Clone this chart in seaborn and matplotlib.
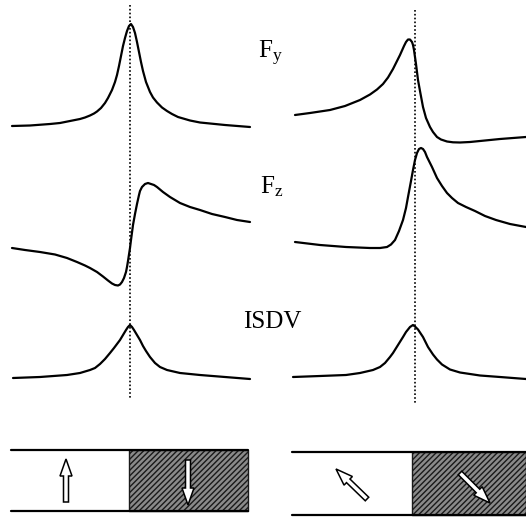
import numpy as np
import pandas as pd
import matplotlib
matplotlib.use("Agg")
import matplotlib.pyplot as plt
import seaborn as sns

sns.set_theme(style="white")
plt.rcParams["font.family"] = ["Liberation Serif", "DejaVu Serif"]
plt.rcParams["mathtext.fontset"] = "custom"
plt.rcParams["mathtext.rm"] = "Liberation Serif"
plt.rcParams["mathtext.it"] = "Liberation Serif"
plt.rcParams["hatch.linewidth"] = 1.0

# ---- curve data (figure pixel frame: x right, y down) ----
left_fy_x = [12, 30, 50, 60, 70, 80, 85, 90, 94, 97, 101, 105, 108, 112, 115, 117, 119, 121, 123, 125, 127, 129, 131,
             133, 135, 137, 139, 141, 143, 146, 150, 153, 157, 162, 167, 172, 178, 190, 200, 225, 250]
left_fy_y = [126, 125.5, 124, 123, 121, 119, 117.5, 115.5, 113.5, 111.5, 108, 103, 98, 90, 82, 75, 66, 56, 46, 38, 31,
             26, 24, 27, 33, 42, 52, 62, 71, 82, 92, 97.5, 102.5, 107.5, 111, 114, 117, 120.5, 122.5, 125, 127]

left_fz_x = [12, 25, 40, 55, 67, 77, 85, 90, 97, 103, 108, 112, 115, 118, 120, 122, 124, 126, 127, 128, 130, 131, 133,
             135, 137, 139, 140, 142, 145, 148, 151, 154, 157, 163, 170, 175, 180, 190, 200, 212, 225, 237, 250]
left_fz_y = [248, 250, 252, 254.5, 258, 262, 265.5, 268, 272, 276.5, 280.5, 283.5, 285, 285.5, 284.5, 282, 278, 272,
             267, 261, 248, 240, 225, 214, 204, 195, 191, 187, 184, 183, 184, 185, 187, 192, 197, 200, 203, 207, 210,
             214, 217, 220, 222]

left_isdv_x = [13, 40, 67, 80, 90, 95, 100, 105, 110, 114, 117, 120, 123, 126, 128, 130, 132, 134, 137, 140, 143, 146,
               150, 155, 160, 167, 180, 200, 225, 250]
left_isdv_y = [378, 377, 375, 373, 370, 368, 364, 359, 353, 348, 344, 340, 335, 330, 327, 325, 327, 330, 335, 340, 346,
               351, 357, 363, 367, 370, 373, 375, 377, 379]

right_fy_x = [295, 310, 330, 345, 360, 370, 377, 383, 388, 393, 397, 400, 402, 404, 406, 408, 410, 412, 413, 414, 415,
              416, 418, 420, 423, 426, 430, 433, 437, 441, 447, 453, 460, 470, 480, 500, 526]
right_fy_y = [115, 113, 110, 106, 100, 94.5, 89.5, 84, 77.5, 69, 61, 55, 50.5, 46, 42, 39.5, 39.5, 42, 45, 50, 57,
              64, 80, 91, 107, 118, 127, 132, 137, 139.5, 141.5, 142.3, 142.5, 142, 141, 139, 137]

right_fz_x = [295, 320, 346, 370, 380, 387, 391, 395, 399, 403, 406, 408, 411, 413, 415, 417, 419, 421, 423, 425, 427,
              432, 437, 442, 447, 452, 458, 466, 475, 485, 496, 510, 526]
right_fz_y = [242, 245, 247, 248, 248, 247, 244.5, 240, 231, 220, 208, 197, 181, 170, 160, 153, 149, 148, 149, 152, 157,
              167, 178, 186, 193, 198, 203, 207, 211, 216, 220, 224, 227]

right_isdv_x = [293, 320, 346, 360, 373, 380, 385, 390, 393, 398, 403, 406, 408, 410, 413, 415, 418, 420, 423, 428,
                433, 437, 442, 450, 460, 480, 500, 526]
right_isdv_y = [377, 376, 375, 373, 370, 367, 363, 357, 353, 345, 337, 332, 329.5, 327, 325, 326.5, 329.5, 332.5, 337,
                347, 354.5, 359.5, 364.5, 369.5, 372.5, 375.5, 377, 379]

# dotted resonance markers: x, y_top, y_bottom
markers_x = [130, 415]
markers_top = [5, 10]
markers_bottom = [398, 403]

# labels
labels = [r"F$_{\mathrm{y}}$", r"F$_{\mathrm{z}}$", "ISDV"]
labels_x = [258, 260, 243]
labels_y = [58, 193, 328]

# magnetisation strips: x_start, x_domain_wall, x_end, y_top, y_bottom
strip_x0 = [11, 292]
strip_wall = [129, 412]
strip_x1 = [248, 526]
strip_top = [450, 452]
strip_bot = [511, 515]

# arrows: tail -> tip
arrow_tail_x = [66, 188, 367, 460]
arrow_tail_y = [502, 460, 499, 473]
arrow_tip_x = [66, 188, 336, 490]
arrow_tip_y = [459, 505, 469, 503]

frames = []
for name, xs, ys in [("lfy", left_fy_x, left_fy_y), ("lfz", left_fz_x, left_fz_y),
                     ("lis", left_isdv_x, left_isdv_y), ("rfy", right_fy_x, right_fy_y),
                     ("rfz", right_fz_x, right_fz_y), ("ris", right_isdv_x, right_isdv_y)]:
    frames.append(pd.DataFrame({"x": xs, "y": ys, "curve": name}))
df = pd.concat(frames, ignore_index=True)

W, H = 526, 517
fig = plt.figure(figsize=(W / 100, H / 100), dpi=100)
ax = fig.add_axes([0, 0, 1, 1])
ax.set_xlim(0, W)
ax.set_ylim(H, 0)
ax.axis("off")

sns.lineplot(data=df, x="x", y="y", units="curve", estimator=None, sort=False,
             color="black", linewidth=1.6, ax=ax, legend=False)
for line in ax.lines:
    line.set_solid_joinstyle("round")
    line.set_solid_capstyle("round")

for mx, t, b in zip(markers_x, markers_top, markers_bottom):
    ax.plot([mx, mx], [t, b], color="black", linewidth=1.2, linestyle=(0, (1, 1.3)))

for lab, lx, ly in zip(labels, labels_x, labels_y):
    ax.text(lx, ly, lab, fontsize=18, ha="left", va="baseline", color="black")

for x0, xw, x1, yt, yb in zip(strip_x0, strip_wall, strip_x1, strip_top, strip_bot):
    ax.fill_between([xw, x1], [yt, yt], [yb, yb], facecolor="#8a8a8a",
                    edgecolor="#1a1a1a", hatch="//////", linewidth=1.0)
    ax.plot([x0, x1], [yt, yt], color="black", linewidth=1.6)
    ax.plot([x0, x1], [yb, yb], color="black", linewidth=1.6)

for tx, ty, px, py in zip(arrow_tail_x, arrow_tail_y, arrow_tip_x, arrow_tip_y):
    ax.arrow(tx, ty, px - tx, py - ty, width=5, head_width=12, head_length=17,
             length_includes_head=True, facecolor="white", edgecolor="black", linewidth=1.1, zorder=5)

fig.savefig("out.png", dpi=100)
